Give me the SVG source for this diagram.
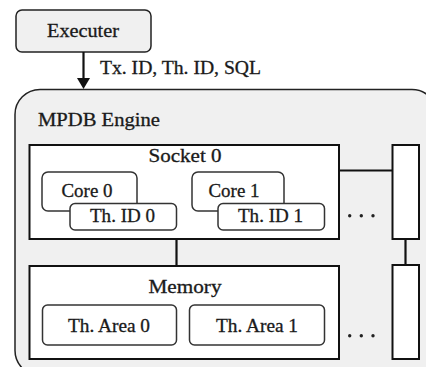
<svg xmlns="http://www.w3.org/2000/svg" width="426" height="367" viewBox="0 0 426 367">
  <defs>
    <style>
      text { font-family: 'Liberation Serif', 'DejaVu Serif', 'Times New Roman', Times, serif; font-size: 18px; fill: #1a1a1a; stroke: #1a1a1a; stroke-width: 0.3; }
      .mid { text-anchor: middle; }
      .outer { fill: #f0f0f0; stroke: #222; stroke-width: 1.5; }
      .box { fill: #fff; stroke: #111; stroke-width: 2; }
      .unit { fill: #fff; stroke: #333; stroke-width: 1.5; }
      .wire { stroke: #111; stroke-width: 2.2; fill: none; }
      .dot { fill: #222; }
    </style>
  </defs>

  <g font-family="Liberation Serif, DejaVu Serif, Times New Roman, serif">
  <!-- Executer -->
  <g id="executer">
    <rect class="outer" x="16" y="10" width="135" height="42" rx="6"/>
    <text class="mid" x="83" y="37" textLength="72" lengthAdjust="spacingAndGlyphs">Executer</text>
  </g>

  <!-- MPDB Engine container -->
  <g id="engine">
    <rect class="outer" x="15" y="89.5" width="422" height="286" rx="25"/>
    <text x="38" y="126" textLength="122" lengthAdjust="spacingAndGlyphs">MPDB Engine</text>
  </g>

  <!-- Connectors -->
  <g id="connectors">
    <line class="wire" x1="83.5" y1="52" x2="83.5" y2="78" stroke-width="1.6"/>
    <path d="M77,78 L90,78 L83.5,89 Z" fill="#111"/>
    <line class="wire" x1="339" y1="170.5" x2="392" y2="170.5"/>
    <line class="wire" x1="176.5" y1="239" x2="176.5" y2="266"/>
    <line class="wire" x1="405.5" y1="239" x2="405.5" y2="265"/>
  </g>

  <text id="edge-label" x="100" y="74" textLength="161" lengthAdjust="spacingAndGlyphs">Tx. ID, Th. ID, SQL</text>

  <!-- Socket 0 -->
  <g id="socket0">
    <rect class="box" x="29.5" y="145" width="309.5" height="94"/>
    <text class="mid" x="185" y="162" textLength="73" lengthAdjust="spacingAndGlyphs">Socket 0</text>
  </g>

  <g id="core0">
    <rect class="unit" x="42" y="172" width="95" height="39" rx="6"/>
    <text class="mid" x="87" y="197" textLength="51" lengthAdjust="spacingAndGlyphs">Core 0</text>
  </g>
  <g id="thid0">
    <rect class="unit" x="70" y="203.5" width="106.5" height="26.5" rx="5"/>
    <text class="mid" x="122.5" y="222" textLength="65" lengthAdjust="spacingAndGlyphs">Th. ID 0</text>
  </g>

  <g id="core1">
    <rect class="unit" x="192" y="172" width="92" height="39" rx="6"/>
    <text class="mid" x="234" y="197" textLength="51" lengthAdjust="spacingAndGlyphs">Core 1</text>
  </g>
  <g id="thid1">
    <rect class="unit" x="218" y="203.5" width="106.5" height="26.5" rx="5"/>
    <text class="mid" x="270.5" y="222" textLength="65" lengthAdjust="spacingAndGlyphs">Th. ID 1</text>
  </g>

  <!-- Memory -->
  <g id="memory">
    <rect class="box" x="29.5" y="266" width="309.5" height="93"/>
    <text class="mid" x="185" y="293" textLength="73" lengthAdjust="spacingAndGlyphs">Memory</text>
  </g>
  <g id="tharea0">
    <rect class="unit" x="42.5" y="305" width="134" height="40" rx="5"/>
    <text class="mid" x="109" y="332" textLength="82" lengthAdjust="spacingAndGlyphs">Th. Area 0</text>
  </g>
  <g id="tharea1">
    <rect class="unit" x="189.5" y="305" width="135" height="40" rx="5"/>
    <text class="mid" x="257" y="332" textLength="82" lengthAdjust="spacingAndGlyphs">Th. Area 1</text>
  </g>

  <!-- Interconnect bars -->
  <g id="bus-upper">
    <rect class="box" x="392.5" y="145" width="26.5" height="94"/>
  </g>
  <g id="bus-lower">
    <rect class="box" x="392.5" y="265" width="26.5" height="94"/>
  </g>

  <!-- Continuation marks -->
  <g id="more-sockets">
    <circle class="dot" cx="349.7" cy="215.7" r="1.7"/>
    <circle class="dot" cx="361.3" cy="215.7" r="1.7"/>
    <circle class="dot" cx="373" cy="215.7" r="1.7"/>
  </g>
  <g id="more-memory">
    <circle class="dot" cx="349.7" cy="335.7" r="1.7"/>
    <circle class="dot" cx="361.3" cy="335.7" r="1.7"/>
    <circle class="dot" cx="373" cy="335.7" r="1.7"/>
  </g>
  </g>
</svg>
